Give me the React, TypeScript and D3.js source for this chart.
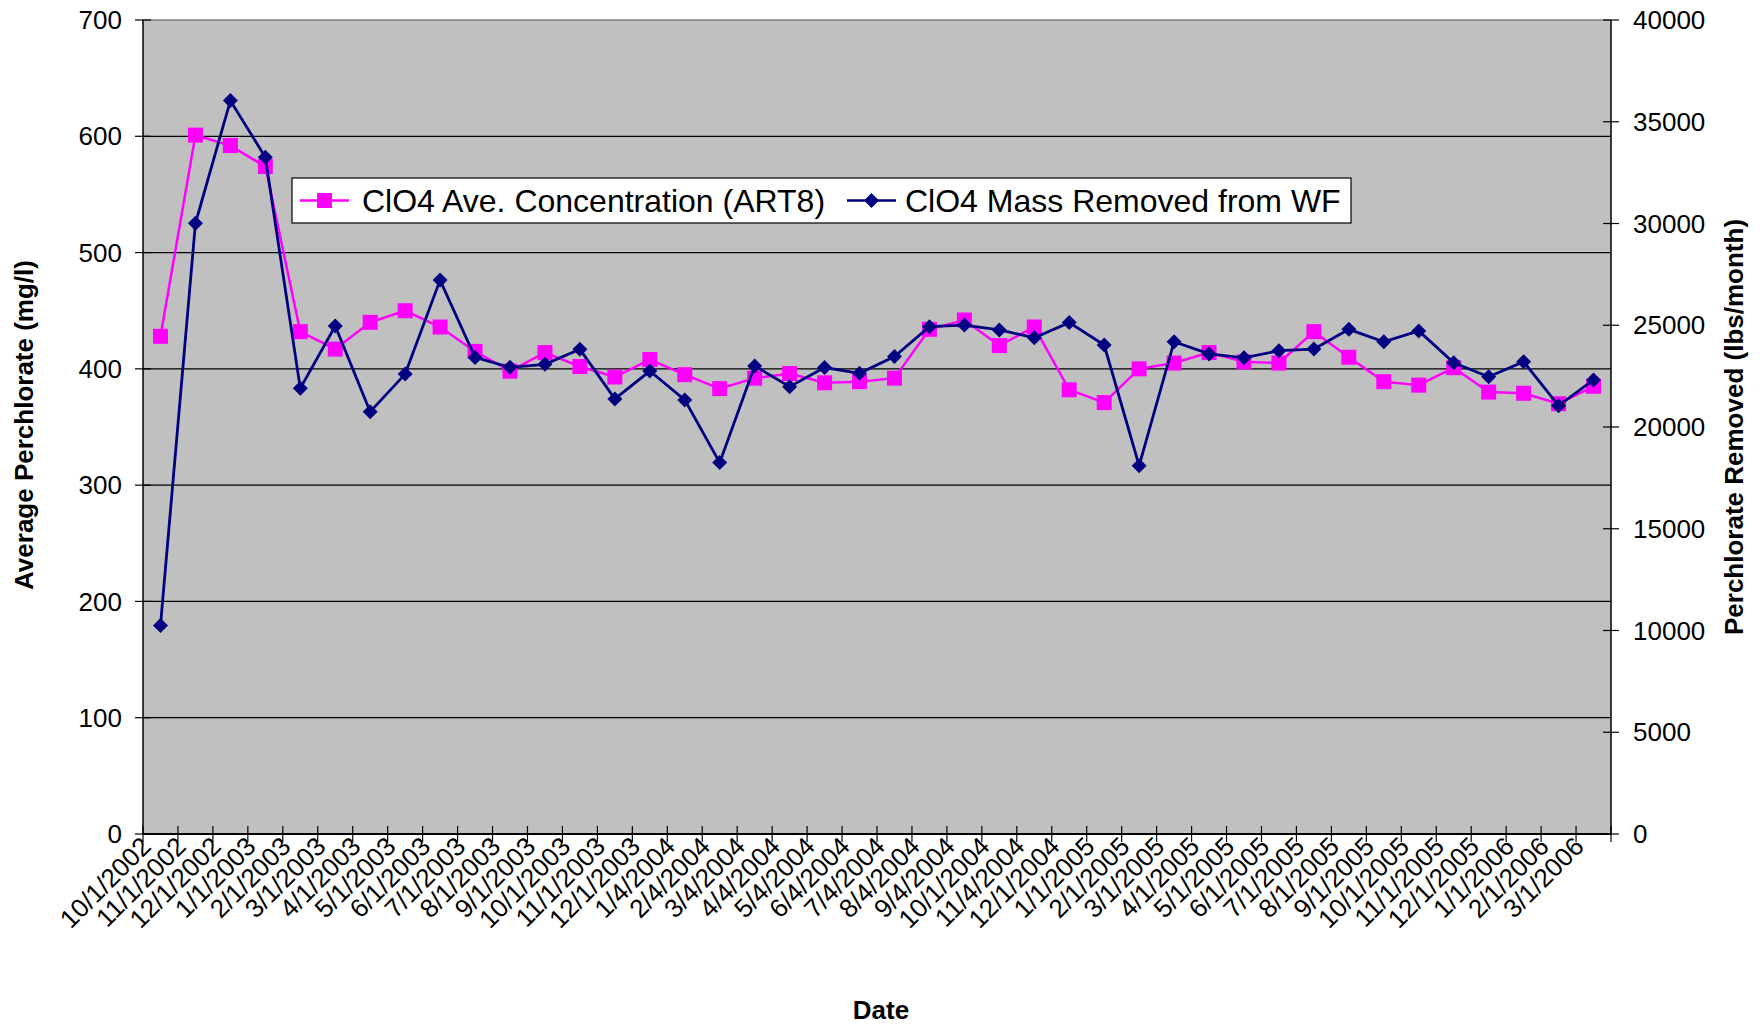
import React from "react";
import * as d3 from "d3";

const categories = [
  "10/1/2002", "11/1/2002", "12/1/2002", "1/1/2003", "2/1/2003", "3/1/2003", "4/1/2003",
  "5/1/2003", "6/1/2003", "7/1/2003", "8/1/2003", "9/1/2003", "10/1/2003", "11/1/2003",
  "12/1/2003", "1/4/2004", "2/4/2004", "3/4/2004", "4/4/2004", "5/4/2004", "6/4/2004",
  "7/4/2004", "8/4/2004", "9/4/2004", "10/1/2004", "11/4/2004", "12/1/2004", "1/1/2005",
  "2/1/2005", "3/1/2005", "4/1/2005", "5/1/2005", "6/1/2005", "7/1/2005", "8/1/2005",
  "9/1/2005", "10/1/2005", "11/1/2005", "12/1/2005", "1/1/2006", "2/1/2006", "3/1/2006",
];

// ClO4 Ave. Concentration (ART8), mg/l (left axis)
const concentration = [
  428, 601, 592, 574, 432, 417, 440, 450, 436, 415, 398, 414, 402, 393,
  408, 395, 383, 392, 396, 388, 389, 392, 434, 442, 420, 436, 382, 371,
  400, 405, 414, 406, 405, 432, 410, 389, 386, 401, 380, 379, 370, 385,
];

// ClO4 Mass Removed from WF, lbs/month (right axis)
const massRemoved = [
  10240, 30010, 36040, 33250, 21900, 24960, 20750, 22600, 27220, 23420, 22930, 23080, 23820, 21380,
  22750, 21330, 18250, 23000, 21980, 22920, 22640, 23460, 24930, 25010, 24770, 24390, 25130, 24030,
  18100, 24190, 23590, 23400, 23750, 23830, 24800, 24190, 24720, 23160, 22470, 23210, 21050, 22310,
];

const leftTicks = [0, 100, 200, 300, 400, 500, 600, 700];
const rightTicks = [0, 5000, 10000, 15000, 20000, 25000, 30000, 35000, 40000];

const seriesNames = ["ClO4 Ave. Concentration (ART8)", "ClO4 Mass Removed from WF"];
const axisTitles = { x: "Date", left: "Average Perchlorate (mg/l)", right: "Perchlorate Removed (lbs/month)" };

const W = 1760;
const H = 1027;
const PL = 143, PR = 1611, PT = 20, PB = 834;
const FONT = "'Liberation Sans', Arial, sans-serif";
const PINK = "#FF00FF";
const NAVY = "#000080";

export default function App() {
  const x = d3.scaleBand<string>().domain(categories).range([PL, PR]).padding(0);
  const yL = d3.scaleLinear().domain([0, 700]).range([PB, PT]);
  const yR = d3.scaleLinear().domain([0, 40000]).range([PB, PT]);
  const cx = (c: string) => (x(c) as number) + x.bandwidth() / 2;

  const pinkLine = d3
    .line<number>()
    .x((_, i) => cx(categories[i]))
    .y((d) => yL(d))(concentration) as string;
  const navyLine = d3
    .line<number>()
    .x((_, i) => cx(categories[i]))
    .y((d) => yR(d))(massRemoved) as string;

  const boundaries = [...categories.map((c) => x(c) as number), PR];
  const sq = 7.5;
  const dm = 7.5;
  const diamond = (px: number, py: number, r: number) =>
    `M${px},${py - r}L${px + r},${py}L${px},${py + r}L${px - r},${py}Z`;

  const legX = 292, legY = 178, legW = 1059, legH = 45;
  const legCy = legY + legH / 2;

  return (
    <div style={{ position: "absolute", left: 0, top: 0 }}>
      <svg width={W} height={H} viewBox={`0 0 ${W} ${H}`} style={{ display: "block", background: "#fff" }}>
        <rect x={PL} y={PT} width={PR - PL} height={PB - PT} fill="#C0C0C0" />
        {leftTicks.slice(1, -1).map((t) => (
          <line key={"g" + t} x1={PL} x2={PR} y1={yL(t)} y2={yL(t)} stroke="#000" strokeWidth={1.2} />
        ))}
        <line x1={PL} x2={PR} y1={PT} y2={PT} stroke="#808080" strokeWidth={1.5} />

        {/* axes */}
        <line x1={PL} x2={PL} y1={PT} y2={PB} stroke="#000" strokeWidth={1.5} />
        <line x1={PR} x2={PR} y1={PT} y2={PB} stroke="#000" strokeWidth={1.5} />
        <line x1={PL} x2={PR} y1={PB} y2={PB} stroke="#000" strokeWidth={2} />

        {leftTicks.map((t) => (
          <g key={"lt" + t}>
            <line x1={PL - 8} x2={PL + 8} y1={yL(t)} y2={yL(t)} stroke="#000" strokeWidth={1.2} />
            <text x={122} y={yL(t)} dy="0.35em" textAnchor="end" fontFamily={FONT} fontSize={26} fill="#000">
              {t}
            </text>
          </g>
        ))}
        {rightTicks.map((t) => (
          <g key={"rt" + t}>
            <line x1={PR - 8} x2={PR + 8} y1={yR(t)} y2={yR(t)} stroke="#000" strokeWidth={1.2} />
            <text x={1633} y={yR(t)} dy="0.35em" textAnchor="start" fontFamily={FONT} fontSize={26} fill="#000">
              {t}
            </text>
          </g>
        ))}
        {boundaries.map((b, i) => (
          <line key={"xt" + i} x1={b} x2={b} y1={PB - 8} y2={PB + 8} stroke="#000" strokeWidth={1.2} />
        ))}
        {categories.map((c) => {
          const ax = cx(c) - 8;
          const ay = 848;
          return (
            <text
              key={"xl" + c}
              transform={`translate(${ax},${ay}) rotate(-45)`}
              textAnchor="end"
              fontFamily={FONT}
              fontSize={26}
              fill="#000"
            >
              {c}
            </text>
          );
        })}

        {/* series */}
        <path d={pinkLine} fill="none" stroke={PINK} strokeWidth={2.5} />
        {concentration.map((v, i) => (
          <rect key={"p" + i} x={cx(categories[i]) - sq} y={yL(v) - sq} width={sq * 2} height={sq * 2} fill={PINK} />
        ))}
        <path d={navyLine} fill="none" stroke={NAVY} strokeWidth={2.8} />
        {massRemoved.map((v, i) => (
          <path key={"n" + i} d={diamond(cx(categories[i]), yR(v), dm)} fill={NAVY} />
        ))}

        {/* legend */}
        <rect x={legX} y={legY} width={legW} height={legH} fill="#fff" stroke="#000" strokeWidth={1.2} />
        <line x1={300} x2={349} y1={legCy} y2={legCy} stroke={PINK} strokeWidth={2.5} />
        <rect x={324.5 - sq} y={legCy - sq} width={sq * 2} height={sq * 2} fill={PINK} />
        <text x={362} y={legCy} dy="0.36em" fontFamily={FONT} fontSize={32} fill="#000">
          {seriesNames[0]}
        </text>
        <line x1={847} x2={896} y1={legCy} y2={legCy} stroke={NAVY} strokeWidth={2.5} />
        <path d={diamond(871.5, legCy, dm)} fill={NAVY} />
        <text x={905} y={legCy} dy="0.36em" fontFamily={FONT} fontSize={32} fill="#000">
          {seriesNames[1]}
        </text>

        {/* axis titles */}
        <text x={881} y={1019} textAnchor="middle" fontFamily={FONT} fontWeight="bold" fontSize={26} fill="#000">
          {axisTitles.x}
        </text>
        <text
          transform={`translate(33,425) rotate(-90)`}
          textAnchor="middle"
          fontFamily={FONT}
          fontWeight="bold"
          fontSize={26}
          fill="#000"
        >
          {axisTitles.left}
        </text>
        <text
          transform={`translate(1743,427) rotate(-90)`}
          textAnchor="middle"
          fontFamily={FONT}
          fontWeight="bold"
          fontSize={26}
          fill="#000"
        >
          {axisTitles.right}
        </text>
      </svg>
    </div>
  );
}
